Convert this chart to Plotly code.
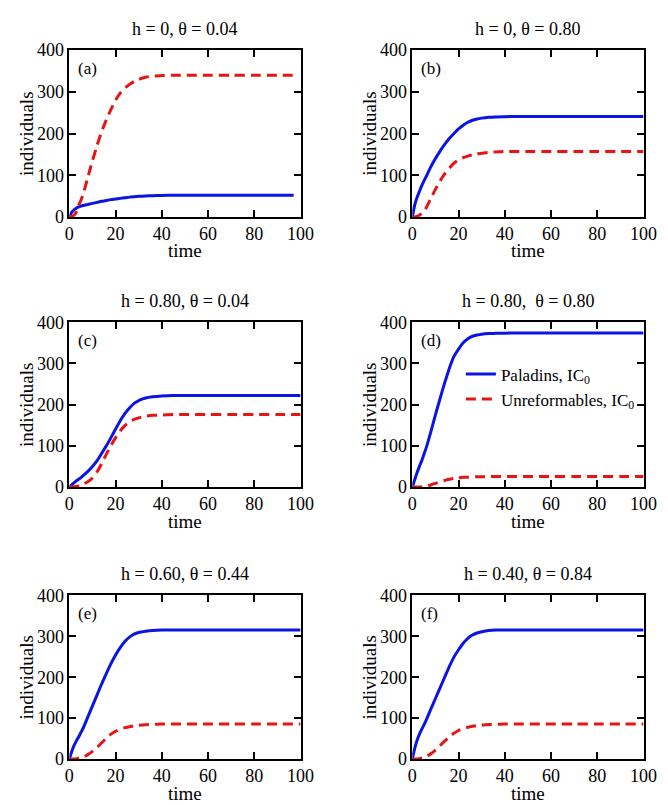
import plotly.graph_objects as go

# ---------------- data ----------------
t_a = [0, 1, 2, 3, 4, 5, 6, 8, 10, 12, 14, 16, 18, 20, 22, 24, 26, 28, 30, 33, 36, 40, 45, 50, 60, 70, 80, 90, 97]
t = [0, 1, 2, 3, 4, 5, 6, 8, 10, 12, 14, 16, 18, 20, 22, 24, 26, 28, 30, 33, 36, 40, 45, 50, 60, 70, 80, 90, 100]

pal_a = [0, 11, 17, 21, 24, 26, 27.5, 30, 32.5, 35, 37.5, 39.5, 41.5, 43, 44.5, 46, 47.5, 48.5, 49.5, 50.5, 51, 51.5, 52, 52, 52, 52, 52, 52, 52]
unr_a = [0, 1, 4, 12, 27, 40, 55, 95, 135, 172, 205, 233, 258, 280, 297, 309, 318, 325, 330, 335, 338, 339, 340, 340, 340, 340, 340, 340, 340]

pal_b = [0, 28, 46, 60, 74, 86, 97, 120, 140, 158, 174, 188, 200, 211, 220, 227, 232, 235, 237, 239, 240, 240.5, 241, 241, 241, 241, 241, 241, 241]
unr_b = [0, 0, 1, 4, 8, 14, 22, 44, 66, 86, 103, 117, 129, 137, 142, 146, 149, 151, 153, 155, 156, 157, 157, 157, 157, 157, 157, 157, 157]

pal_c = [0, 5, 10, 15, 19, 23, 28, 38, 50, 64, 82, 100, 120, 141, 161, 178, 192, 203, 210, 216, 219, 221, 222, 222, 222, 222, 222, 222, 222]
unr_c = [0, 0, 0.5, 1.5, 3, 5, 7, 13, 22, 37, 57, 80, 101, 120, 136, 149, 158, 164, 168, 172, 174, 175, 176, 176, 176, 176, 176, 176, 176]

pal_d = [0, 17, 34, 49, 63, 79, 95, 134, 175, 215, 253, 288, 317, 335, 350, 360, 366, 369, 371, 372.5, 373, 373.5, 374, 374, 374, 374, 374, 374, 374]
unr_d = [0, 0, 0, 0.2, 0.5, 1, 2, 5, 9, 13, 16, 19, 21, 22.5, 23.5, 24, 24.5, 25, 25, 25.5, 25.5, 25.5, 25.5, 25.5, 25.5, 25.5, 25.5, 25.5, 25.5]

pal_e = [0, 18, 33, 44, 54, 65, 76, 103, 130, 157, 184, 209, 233, 254, 272, 287, 298, 305, 309, 312, 314, 315, 315, 315, 315, 315, 315, 315, 315]
unr_e = [0, 0, 0.3, 1, 2, 3.5, 5, 11, 19, 29, 40, 51, 61, 68, 73, 77, 79, 81, 82.5, 84, 85, 85.5, 86, 86, 86, 86, 86, 86, 86]

pal_f = [0, 25, 45, 60, 72, 83, 95, 122, 148, 174, 200, 226, 249, 267, 283, 295, 303, 308, 311, 314, 315, 315, 315, 315, 315, 315, 315, 315, 315]
unr_f = [0, 0, 0.5, 1.2, 2.5, 4, 6, 13, 22, 33, 44, 54, 63, 70, 75, 78, 80, 82, 83, 84.5, 85, 85.5, 86, 86, 86, 86, 86, 86, 86]

titles = ["h = 0, θ = 0.04", "h = 0, θ = 0.80", "h = 0.80, θ = 0.04",
          "h = 0.80,\u00a0 θ = 0.80", "h = 0.60, θ = 0.44", "h = 0.40, θ = 0.84"]
labels = ["(a)", "(b)", "(c)", "(d)", "(e)", "(f)"]
series_names = ["Paladins, IC<sub>0</sub>", "Unreformables, IC<sub>0</sub>"]

panels = [(t_a, pal_a, unr_a), (t, pal_b, unr_b), (t, pal_c, unr_c),
          (t, pal_d, unr_d), (t, pal_e, unr_e), (t, pal_f, unr_f)]

x_ticks = [0, 20, 40, 60, 80, 100]
y_ticks = [0, 100, 200, 300, 400]

# ---------------- layout geometry ----------------
W, H = 668, 805
col_px = [(58, 296), (411, 649)]
row_px = [(33, 204), (312, 481), (592, 760)]

FONT = "Liberation Serif, Times New Roman, serif"
BLUE = "#0a14e6"
RED = "#e61414"

fig = go.Figure()
layout = dict(
    width=W, height=H,
    margin=dict(l=0, r=0, t=0, b=0),
    paper_bgcolor="white", plot_bgcolor="white",
    font=dict(family=FONT, size=18, color="black"),
    annotations=[],
)

for i, (tt, pal, unr) in enumerate(panels):
    r, c = divmod(i, 2)
    n = i + 1
    xa = "x" if n == 1 else f"x{n}"
    ya = "y" if n == 1 else f"y{n}"
    xkey = "xaxis" if n == 1 else f"xaxis{n}"
    ykey = "yaxis" if n == 1 else f"yaxis{n}"
    x0, x1 = col_px[c]
    y0, y1 = row_px[r]
    common = dict(showline=True, mirror="ticks", linecolor="black", linewidth=1.5,
                  ticks="inside", ticklen=7, tickwidth=1.5, tickcolor="black",
                  showgrid=False, zeroline=False,
                  tickfont=dict(family=FONT, size=18, color="black"))
    layout[xkey] = dict(domain=[x0 / W, x1 / W], anchor=ya, range=[0, 100],
                        tickvals=x_ticks, **common)
    layout[ykey] = dict(domain=[1 - y1 / H, 1 - y0 / H], anchor=xa, range=[0, 400],
                        tickvals=y_ticks, **common)

    show = (n == 4)
    fig.add_trace(go.Scatter(x=tt, y=pal, mode="lines", xaxis=xa, yaxis=ya,
                             line=dict(color=BLUE, width=3, shape="spline", smoothing=0.6),
                             name=series_names[0], showlegend=show))
    fig.add_trace(go.Scatter(x=tt, y=unr, mode="lines", xaxis=xa, yaxis=ya,
                             line=dict(color=RED, width=3, dash="10px,6px", shape="spline", smoothing=0.6),
                             name=series_names[1], showlegend=show))

    dx = f"{xa} domain"
    dy = f"{ya} domain"
    layout["annotations"] += [
        dict(text=titles[i], xref=dx, yref=dy, x=0.5, y=1, yshift=21, xanchor="center",
             yanchor="middle", showarrow=False, font=dict(family=FONT, size=18, color="black")),
        dict(text=labels[i], xref=dx, yref=dy, x=0, y=1, xshift=7, yshift=-18, xanchor="left",
             yanchor="middle", showarrow=False, font=dict(family=FONT, size=17, color="black")),
        dict(text="time", xref=dx, yref=dy, x=0.5, y=0, yshift=-34, xanchor="center",
             yanchor="middle", showarrow=False, font=dict(family=FONT, size=19, color="black")),
        dict(text="individuals", xref=dx, yref=dy, x=0, y=0.5, xshift=-43, xanchor="center",
             yanchor="middle", textangle=-90, showarrow=False,
             font=dict(family=FONT, size=19, color="black")),
    ]

layout["legend"] = dict(x=461 / W, y=1 - 347 / H, xanchor="left", yanchor="top",
                        bgcolor="rgba(0,0,0,0)", borderwidth=0,
                        font=dict(family=FONT, size=17, color="black"),
                        tracegroupgap=0)
fig.update_layout(**layout)
fig.write_html("out.html")
